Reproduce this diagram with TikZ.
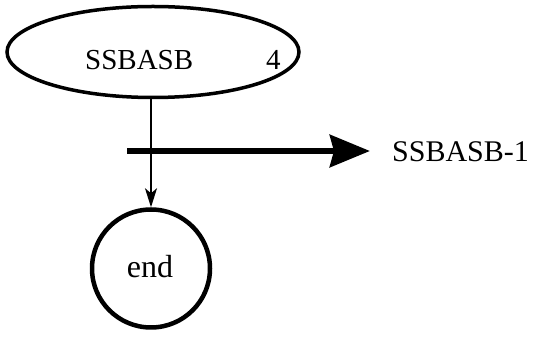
\documentclass[tikz,border=0pt]{standalone}
\usepackage{fontspec}
\setmainfont{Liberation Serif}
\usetikzlibrary{arrows.meta,shapes.geometric}
\begin{document}
\begin{tikzpicture}[x=1pt,y=1pt,
  lbl/.style={inner sep=0pt,font=\fontsize{29}{32}\selectfont},
  statebox/.style={draw,ellipse,line width=3.5pt,minimum width=292pt,minimum height=91pt,inner sep=0pt},
  endbox/.style={draw,circle,line width=4.5pt,minimum size=118pt,inner sep=0pt},
  thin/.style={line width=1.5pt,-{Stealth[length=19pt,width=12pt,inset=5pt]}},
  thick/.style={line width=6.5pt,-{Stealth[length=40pt,width=32pt,inset=4pt]}}]
\useasboundingbox (0,0) rectangle (536,337);
\node[statebox] (ell) at (153,285) {};
\node[lbl,anchor=base west] (t1) at (85,267) {SSBASB};
\node[lbl,anchor=base west] (t2) at (266,267) {4};
\node[endbox] (endc) at (151,68.5) {};
\node[lbl,anchor=base,font=\fontsize{32}{34}\selectfont] (t3) at (150,59) {end};
\node[lbl,anchor=base west,font=\fontsize{30}{33}\selectfont] (lab) at (392,175) {SSBASB-1};
\coordinate (s) at (127,186);
\draw[thin] (endc.north |- ell.south) -- (endc.north);
\draw[thick] (s) -- ([xshift=-22pt]lab.west |- s);
\end{tikzpicture}
\end{document}
